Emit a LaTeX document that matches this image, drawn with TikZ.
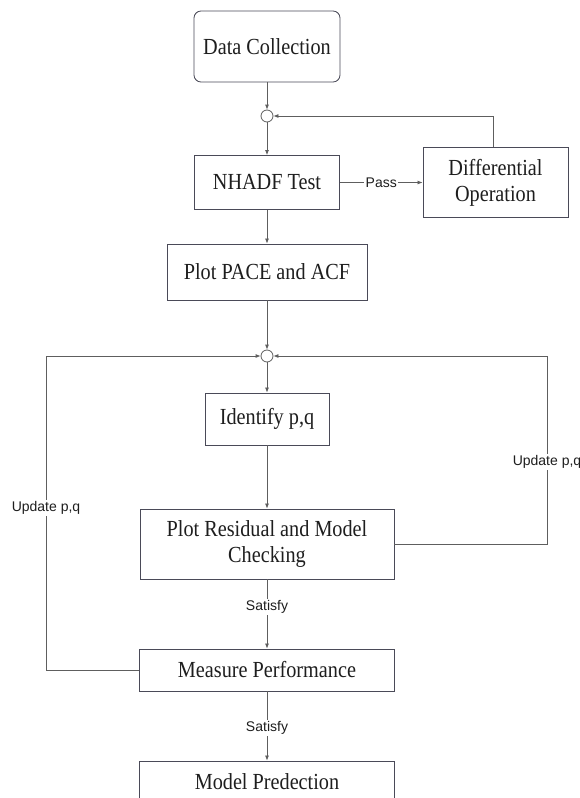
\documentclass[tikz,border=0pt]{standalone}
\usepackage{fontspec}
\setmainfont{Liberation Serif}[FakeStretch=0.88]
\setsansfont{Liberation Sans}
\usetikzlibrary{arrows.meta}
\definecolor{linegray}{HTML}{5E5E5E}
\definecolor{boxedge}{HTML}{4A4A58}
\definecolor{inkblack}{HTML}{1E1E1E}
\begin{document}
\begin{tikzpicture}[x=1pt,y=-1pt,
  box/.style={draw=boxedge, line width=0.85pt, fill=white, inner sep=0pt,
    text=inkblack, font=\fontsize{23}{26}\selectfont, align=center},
  junction/.style={circle, draw=linegray, line width=0.8pt, fill=white,
    minimum size=12pt, inner sep=0pt},
  link/.style={draw=linegray, line width=0.8pt},
  flow/.style={link, -{Latex[length=5pt,width=4pt]}},
  tag/.style={fill=white, inner sep=1.5pt, text=inkblack,
    font=\sffamily\fontsize{14}{16}\selectfont}]
\useasboundingbox (0,0) rectangle (580,798);
\fill[white] (0,0) rectangle (580,798);
\clip (0,0) rectangle (580,798);

% process steps
\node[box, rounded corners=7pt, minimum width=146pt, minimum height=71pt] (collect) at (267,46.5) {Data Collection};
\node[junction] (j1) at (267,116) {};
\node[box, minimum width=145pt, minimum height=54pt] (adf) at (267,182.5) {NHADF Test};
\node[box, minimum width=145pt, minimum height=70pt] (diff) at (495.5,182.5) {Differential\\Operation};
\node[box, minimum width=200pt, minimum height=56pt] (pace) at (267,272) {Plot PACE and ACF};
\node[junction] (j2) at (267,356) {};
\node[box, minimum width=124pt, minimum height=52pt] (ident) at (267,419) {Identify p,q};
\node[box, minimum width=254pt, minimum height=70pt] (resid) at (267,544) {Plot Residual and Model\\Checking};
\node[box, minimum width=255pt, minimum height=42pt] (perf) at (267,670) {Measure Performance};
\node[box, minimum width=255pt, minimum height=42pt] (pred) at (267,782) {Model Predection};

% corners of the feedback loops
\coordinate (rlow) at (547,544);
\coordinate (rhigh) at (547,356);
\coordinate (llow) at (46,670);
\coordinate (lhigh) at (46,356);
\coordinate (dtop) at (493,116);

% main flow
\draw[flow] (collect) -- (j1);
\draw[flow] (j1) -- (adf);
\draw[flow] (adf) -- node[tag]{Pass} (diff);
\draw[flow] (diff.north -| dtop) -- (dtop) -- (j1.east);
\draw[flow] (adf) -- (pace);
\draw[flow] (pace) -- (j2);
\draw[flow] (j2) -- (ident);
\draw[flow] (ident) -- (resid);
\draw[flow] (resid) -- node[tag, pos=0.4]{Satisfy} (perf);
\draw[flow] (perf) -- node[tag, pos=0.53]{Satisfy} (pred);

% feedback loops
\draw[flow] (resid.east) -- (rlow) -- node[tag, pos=0.436]{Update p,q} (rhigh) -- (j2.east);
\draw[flow] (perf.west) -- (llow) -- node[tag, pos=0.516]{Update p,q} (lhigh) -- (j2.west);
\end{tikzpicture}
\end{document}
